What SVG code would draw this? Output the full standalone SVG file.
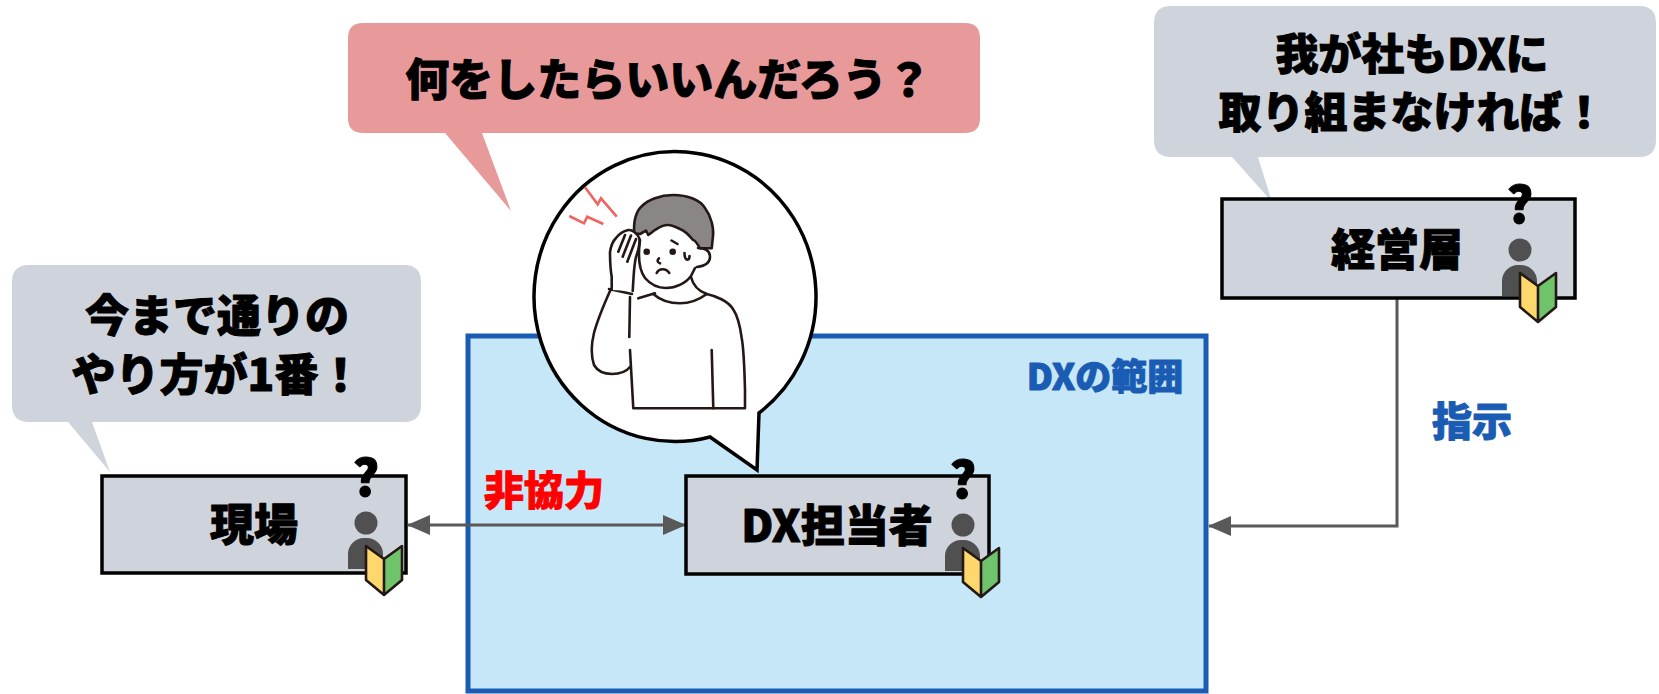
<svg xmlns="http://www.w3.org/2000/svg" width="1659" height="694" viewBox="0 0 1659 694">
  <defs>
    <style>
      .t{font-family:"Noto Sans CJK JP Black","Noto Sans CJK JP","Noto Sans",sans-serif;font-weight:900;stroke-width:1;stroke-linejoin:round}
      .lbl{font-size:44px;fill:#000;stroke:#000;text-anchor:middle}
      .red{fill:#ff0000;stroke:#ff0000}
      .blue{fill:#1a5cb4;stroke:#1a5cb4}
      .box{fill:#cfd4dc;stroke:#000;stroke-width:3.5}
      .bub{fill:#cfd4dc}
      .ln{stroke:#595959;stroke-width:3;fill:none}
      .ink{fill:none;stroke:#231815;stroke-width:2.6;stroke-linecap:round;stroke-linejoin:round}
      .bolt{fill:none;stroke:#ef6360;stroke-width:2.6;stroke-linejoin:miter}
    </style>
    <marker id="ah" markerUnits="userSpaceOnUse" markerWidth="24" markerHeight="22" refX="22" refY="11" orient="auto-start-reverse" viewBox="0 0 24 22">
      <path d="M0,1 L23,11 L0,21 Z" fill="#595959"/>
    </marker>
    <!-- person icon with question mark and beginner's mark; origin = head centre -->
    <g id="user">
      <text class="t" x="0" y="-27" font-size="50" text-anchor="middle" fill="#000" stroke="#000">?</text>
      <circle r="11.5" fill="#505050"/>
      <path d="M-18,46 V31 A16,16 0 0 1 -2,15 H1 A16,16 0 0 1 17,31 V46 Z" fill="#505050"/>
      <path d="M0,23 L18,36 L18,72 L0,57 Z" fill="#fed86c"/>
      <path d="M18,36 L36,23 L36,57 L18,72 Z" fill="#6fc36b"/>
      <path d="M0,23 L18,36 L36,23 L36,57 L18,72 L0,57 Z M18,36 V72" fill="none" stroke="#231815" stroke-width="2.6" stroke-linejoin="round"/>
    </g>
  </defs>

  <rect width="1659" height="694" fill="#fff"/>

  <!-- DX scope area -->
  <g id="dx-scope">
    <rect x="468" y="336" width="738" height="355" fill="#c5e7f7" stroke="#1a5cb4" stroke-width="5"/>
    <text class="t blue" x="1105" y="390" font-size="36" text-anchor="middle">DXの範囲</text>
  </g>

  <!-- worried staff member in a round speech balloon -->
  <g id="worried-person">
    <path d="M759,413 A141,145 0 1 0 710,437 L757,470 Z" fill="#fff" stroke="#000" stroke-width="3.5" stroke-linejoin="miter"/>
    <path class="bolt" d="M585,187.3 L597.7,204.3 L601,198.3 L616.7,216.7"/>
    <path class="bolt" d="M569.3,216 L584,223.3 L587.3,216.7 L603.3,224"/>
    <!-- body -->
    <path class="ink" d="M630,297 L629.3,337"/>
    <path class="ink" d="M630,350 L633.3,408.3 L745,408.3 L745,390 C744.5,370 743,345 741.7,338 C740,325 737,315 733,309 C728,301 716,296 706.7,294"/>
    <path class="ink" d="M653.3,294 C660,300 670,303.3 680,303.3 C690,303.3 700,299 706.7,294"/>
    <path class="ink" d="M691,277 C693,285 698,291 706.7,294"/>
    <path class="ink" d="M638.3,298.3 L655,293.3"/>
    <path class="ink" d="M711.7,350 L713.3,408.3"/>
    <!-- raised arm -->
    <path class="ink" d="M610,291 C606,300 598,318 594,333 C591,345 591,356 594,365 C598,372 605,374 612,374 C619,374 626,372 630,367"/>
    <path class="ink" d="M609,289 L632,294"/>
    <!-- face -->
    <path class="ink" d="M640,240 C638,255 639,270 645,278 C651,285 658,288 666,288 C676,288 686,283 691,276 L695,268"/>
    <path class="ink" d="M698,248 C704,248 710,250 710,257 C710,263 705,266 697,267"/>
    <!-- hair -->
    <path d="M634.3,233.3 C633,220 637,210 642,206 C648,200 660,195 673,195 C688,195 700,200 705,208 C711,216 714,228 713,236 L711.7,248.3 L700,248.3 C697,243 695,240 693,240 C689,235 685,231 680,229 C676,227 672,225 668,225 C662,225 658,228 655,230 C652,232 650,234 648.3,235 L646,230.7 L640,234 Z" fill="#8b8686" stroke="#231815" stroke-width="2.6" stroke-linejoin="round"/>
    <!-- hand on head -->
    <path d="M611.7,290 L611.7,276.7 C610.5,270 610,260 610,252 C611,245 613,241 616,238 C619,234 624,231 628.3,230 C632,229.5 637,233 639.3,238.3 C640,243 638.5,250 636,257 C634.5,263 634,270 633.5,278 L632.7,291" fill="#fff" stroke="#231815" stroke-width="2.6" stroke-linejoin="round" stroke-linecap="round"/>
    <path class="ink" d="M625,235 L618.3,251.7 M631,235.5 L622.7,256.7 M636,239 L627.3,261.7"/>
    <!-- features -->
    <circle cx="646.7" cy="251.7" r="3.3" fill="#231815"/>
    <circle cx="672.7" cy="251.7" r="3.3" fill="#231815"/>
    <path class="ink" d="M671.5,240.5 L677.5,244"/>
    <path class="ink" d="M684.5,253 C684.5,258 686,260 688,259.5 C689.5,259 689.5,257 689.5,256"/>
    <path class="ink" d="M659,258.3 C657,260 657,262.5 660,263.3"/>
    <path class="ink" d="M656.7,273 C659,268 666,268 669.3,273"/>
  </g>

  <!-- speech balloons -->
  <g id="thought-dx">
    <path d="M363,23 H965 Q980,23 980,38 V118 Q980,133 965,133 H482 L511,211 L445,133 H363 Q348,133 348,118 V38 Q348,23 363,23 Z" fill="#e89a9a"/>
    <text class="t lbl" x="668" y="96">何をしたらいいんだろう？</text>
  </g>
  <g id="voice-genba">
    <path class="bub" d="M29,265 H404 Q421,265 421,282 V405 Q421,422 404,422 H92 L110,472 L68,422 H29 Q12,422 12,405 V282 Q12,265 29,265 Z"/>
    <text class="t lbl"><tspan x="217" y="332">今まで通りの</tspan><tspan x="217" y="391">やり方が1番！</tspan></text>
  </g>
  <g id="voice-mgmt">
    <path class="bub" d="M1171,6 H1639 Q1656,6 1656,23 V140 Q1656,157 1639,157 H1258 L1272,202 L1232,157 H1171 Q1154,157 1154,140 V23 Q1154,6 1171,6 Z"/>
    <text class="t lbl" font-size="43" style="font-size:43px"><tspan x="1412" y="70">我が社もDXに</tspan><tspan x="1412" y="128">取り組まなければ！</tspan></text>
  </g>

  <!-- connectors -->
  <g id="connectors">
    <path class="ln" d="M408,525 H685" marker-start="url(#ah)" marker-end="url(#ah)"/>
    <path class="ln" d="M1397,298 V526 H1209" marker-end="url(#ah)"/>
    <text class="t red" x="544" y="505" font-size="40" text-anchor="middle">非協力</text>
    <text class="t blue" x="1472" y="436" font-size="40" text-anchor="middle">指示</text>
  </g>

  <!-- nodes -->
  <g id="node-genba">
    <rect class="box" x="102" y="476" width="304" height="97"/>
    <text class="t lbl" x="254" y="541">現場</text>
    <use href="#user" x="366" y="523"/>
  </g>
  <g id="node-dx">
    <rect class="box" x="686" y="476" width="303" height="98"/>
    <text class="t lbl" x="837" y="542">DX担当者</text>
    <use href="#user" x="963" y="525"/>
  </g>
  <g id="node-mgmt">
    <rect class="box" x="1222" y="199" width="353" height="99"/>
    <text class="t lbl" x="1397" y="266">経営層</text>
    <use href="#user" x="1520" y="250"/>
  </g>
</svg>
